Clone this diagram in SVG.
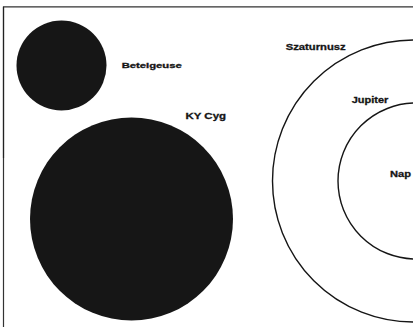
<svg xmlns="http://www.w3.org/2000/svg" width="413" height="329" viewBox="0 0 413 329">
<style>
.star{fill:#161616;stroke:none}
.orbit{fill:none;stroke:#151515;stroke-width:1.4}
.lbl{font-family:"Liberation Sans",Arial,sans-serif;font-weight:bold;fill:#151515;stroke:#151515;stroke-width:0.3}
.frame{fill:none;stroke:#333;stroke-width:1.2}
</style>
<rect width="413" height="329" fill="#fff"/>
<g id="frame">
<path class="frame" d="M3.5 327 V6.8 H413"/>
<path d="M3.5 6.8 V158" stroke="#222" stroke-width="1.2" fill="none"/>
</g>
<g id="betelgeuse">
<circle class="star" cx="61.5" cy="65.5" r="45"/>
<text class="lbl" x="121.7" y="67.7" font-size="7.6" textLength="60" lengthAdjust="spacingAndGlyphs">Betelgeuse</text>
</g>
<g id="ky-cyg">
<circle class="star" cx="131.5" cy="219" r="101.5"/>
<text class="lbl" x="185.5" y="119" font-size="9.3" textLength="40.5" lengthAdjust="spacingAndGlyphs">KY Cyg</text>
</g>
<g id="szaturnusz">
<circle class="orbit" cx="413.5" cy="181" r="141"/>
<text class="lbl" x="285.7" y="50" font-size="9.2" textLength="60" lengthAdjust="spacingAndGlyphs">Szaturnusz</text>
</g>
<g id="jupiter">
<circle class="orbit" cx="416" cy="181" r="78"/>
<text class="lbl" x="351.7" y="102.5" font-size="9.2" textLength="36.6" lengthAdjust="spacingAndGlyphs">Jupiter</text>
</g>
<g id="nap">
<text class="lbl" x="390" y="176.7" font-size="9.5" textLength="21" lengthAdjust="spacingAndGlyphs">Nap</text>
</g>
</svg>
